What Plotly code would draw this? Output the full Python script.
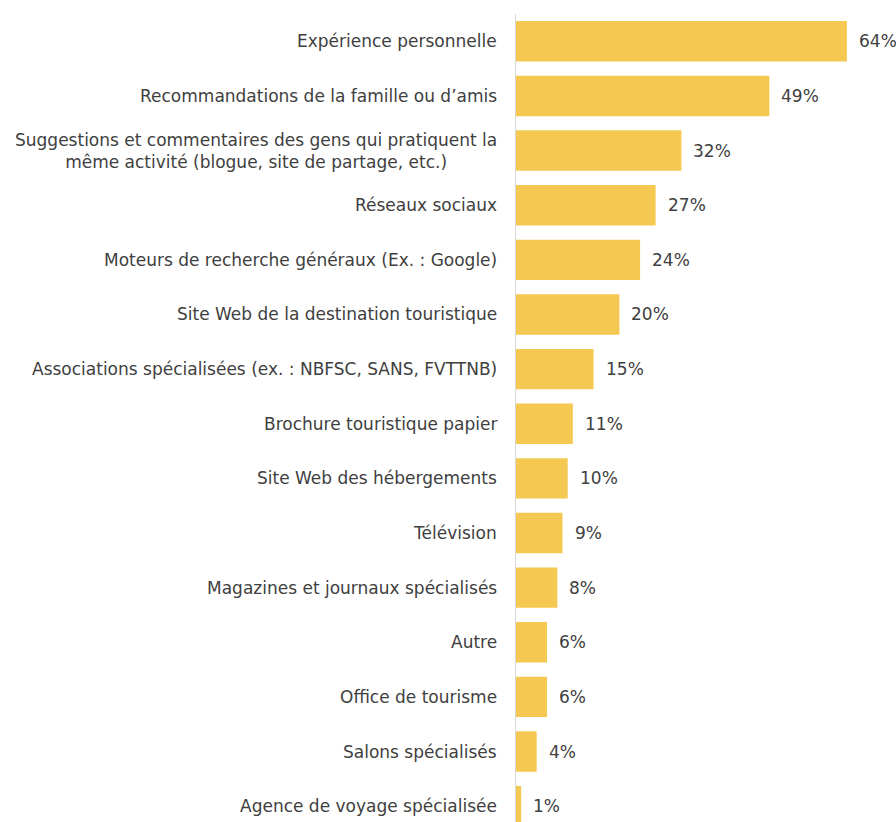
import plotly.graph_objects as go

categories = [
    "Expérience personnelle",
    "Recommandations de la famille ou d’amis",
    "Suggestions et commentaires des gens qui pratiquent la<br>même activité (blogue, site de partage, etc.)",
    "Réseaux sociaux",
    "Moteurs de recherche généraux (Ex. : Google)",
    "Site Web de la destination touristique",
    "Associations spécialisées (ex. : NBFSC, SANS, FVTTNB)",
    "Brochure touristique papier",
    "Site Web des hébergements",
    "Télévision",
    "Magazines et journaux spécialisés",
    "Autre",
    "Office de tourisme",
    "Salons spécialisés",
    "Agence de voyage spécialisée",
]
values = [64, 49, 32, 27, 24, 20, 15, 11, 10, 9, 8, 6, 6, 4, 1]
value_labels = [f"{v}%" for v in values]

FONT = "DejaVu Sans"
TEXT_COLOR = "#404040"
BAR_COLOR = "#F5C851"

idx = list(range(len(categories)))

fig = go.Figure(
    go.Bar(
        x=values,
        y=idx,
        orientation="h",
        marker=dict(color=BAR_COLOR, line=dict(width=0)),
        width=0.74,
        hoverinfo="skip",
    )
)

annotations = []
for i, (cat, v, lab) in enumerate(zip(categories, values, value_labels)):
    # category label, right-aligned against the axis, lines centred
    annotations.append(dict(
        x=0, xref="x", y=i, yref="y", text=cat, showarrow=False,
        xanchor="right", align="center", xshift=-17,
        font=dict(family=FONT, size=17, color=TEXT_COLOR),
    ))
    # value label to the right of the bar
    annotations.append(dict(
        x=v, xref="x", y=i, yref="y", text=lab, showarrow=False,
        xanchor="left", xshift=10,
        font=dict(family=FONT, size=17, color=TEXT_COLOR),
    ))

fig.update_layout(
    width=896, height=822,
    margin=dict(l=516, r=0, t=14, b=0),
    paper_bgcolor="white", plot_bgcolor="white",
    showlegend=False,
    annotations=annotations,
    xaxis=dict(range=[0, 73.5], showgrid=False, zeroline=False,
               showticklabels=False, ticks=""),
    yaxis=dict(range=[14.29, -0.5], showgrid=False, zeroline=False,
               showticklabels=False, ticks="",
               showline=True, linecolor="#D9D9D9", linewidth=1),
)

fig.write_html("out.html")
